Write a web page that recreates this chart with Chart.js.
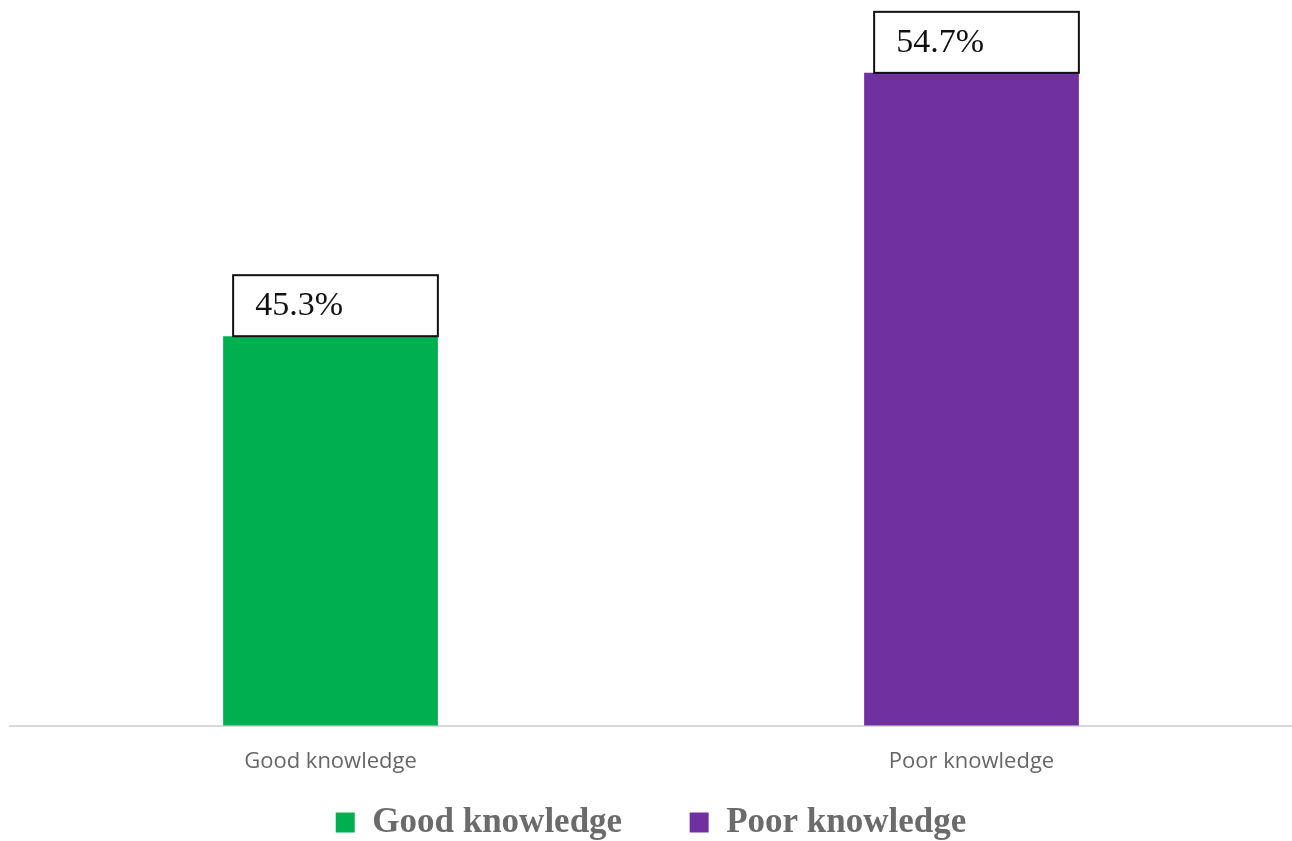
<!DOCTYPE html>
<html>
<head>
<meta charset="utf-8">
<script src="https://cdn.jsdelivr.net/npm/chart.js@4"></script>
<style>
  html, body { margin: 0; padding: 0; background: #fff; }
  #wrap { width: 1292px; height: 841px; }
</style>
</head>
<body>
<div id="wrap"><canvas id="chart"></canvas></div>
<script>
// data
const categories = ['Good knowledge', 'Poor knowledge'];
const goodValues = [45.3, null];
const poorValues = [null, 54.7];
const valueLabels = ['45.3%', '54.7%'];

// boxed value labels above the bars
const boxLabels = {
  id: 'boxLabels',
  afterDatasetsDraw(chart) {
    const ctx = chart.ctx;
    ctx.save();
    chart.data.datasets.forEach((ds, di) => {
      const meta = chart.getDatasetMeta(di);
      meta.data.forEach((bar, i) => {
        if (ds.data[i] == null) return;
        const left = bar.x - bar.width / 2 + 10;
        const right = bar.x + bar.width / 2;
        const bottom = bar.y;
        const top = bottom - 61;
        ctx.fillStyle = '#fff';
        ctx.fillRect(left, top, right - left, bottom - top);
        ctx.strokeStyle = '#111';
        ctx.lineWidth = 2;
        ctx.strokeRect(left, top, right - left, bottom - top);
        ctx.fillStyle = '#111';
        ctx.font = '34px "Liberation Serif"';
        ctx.textBaseline = 'middle';
        ctx.fillText(valueLabels[i], left + 22, top + 31);
      });
    });
    ctx.restore();
  }
};

new Chart(document.getElementById('chart'), {
  type: 'bar',
  data: {
    labels: categories,
    datasets: [
      { label: 'Good knowledge', data: goodValues, backgroundColor: '#00b050', skipNull: true },
      { label: 'Poor knowledge', data: poorValues, backgroundColor: '#7030a0', skipNull: true }
    ]
  },
  options: {
    responsive: true,
    maintainAspectRatio: false,
    animation: false,
    layout: { padding: { left: 10, right: 0, top: 0, bottom: -9 } },
    datasets: { bar: { barPercentage: 0.335, categoryPercentage: 1 } },
    plugins: {
      legend: {
        position: 'bottom',
        labels: {
          color: '#6b6b6b',
          font: { family: '"Liberation Serif"', size: 35, weight: 'bold' },
          boxWidth: 19,
          boxHeight: 20,
          padding: 15,
          generateLabels(chart) {
            const items = Chart.defaults.plugins.legend.labels.generateLabels(chart);
            // wider gap between the two legend entries
            items.forEach((it, i) => { if (i < items.length - 1) it.text += '\u2003\u2002'; });
            return items;
          }
        }
      },
      tooltip: { enabled: false }
    },
    scales: {
      x: {
        grid: { display: false },
        border: { color: '#d9d9d9', width: 2 },
        ticks: {
          color: '#666',
          font: { family: '"Open Sans"', size: 22 },
          padding: 15
        }
      },
      y: {
        display: false,
        min: 31.4,
        max: 57.3
      }
    }
  },
  plugins: [boxLabels]
});
</script>
</body>
</html>
